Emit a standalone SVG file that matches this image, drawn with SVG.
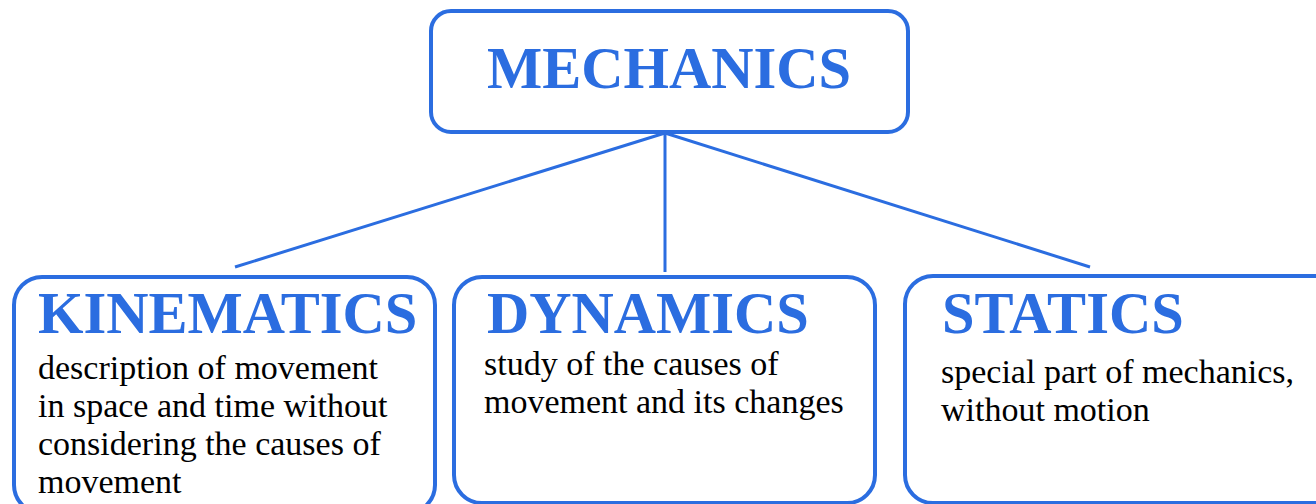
<svg xmlns="http://www.w3.org/2000/svg" width="1316" height="504" viewBox="0 0 1316 504">
<style>
.box{fill:#fff;stroke:#2b6de0;stroke-width:4}
.title{font-family:"Liberation Serif",serif;font-weight:bold;fill:#2b6de0;font-size:58.5px}
.body{font-family:"Liberation Serif",serif;fill:#000;font-size:34px}
.conn{stroke:#2b6de0;stroke-width:3;fill:none}
</style>
<rect width="1316" height="504" fill="#fff"/>
<g id="connectors">
<line class="conn" x1="665" y1="133" x2="235" y2="267"/>
<line class="conn" x1="665" y1="133" x2="665" y2="272"/>
<line class="conn" x1="665" y1="133" x2="1090" y2="267"/>
</g>
<g id="mechanics">
<rect class="box" x="431" y="11" width="477" height="121" rx="20"/>
<text class="title" x="669" y="88" text-anchor="middle">MECHANICS</text>
</g>
<g id="kinematics">
<rect class="box" x="14" y="277" width="421" height="236" rx="28"/>
<text class="title" x="38" y="333">KINEMATICS</text>
<text class="body" x="38" y="379">description of movement</text>
<text class="body" x="38" y="417">in space and time without</text>
<text class="body" x="38" y="455">considering the causes of</text>
<text class="body" x="38" y="493">movement</text>
</g>
<g id="dynamics">
<rect class="box" x="454" y="277" width="421" height="226" rx="28"/>
<text class="title" x="487" y="333">DYNAMICS</text>
<text class="body" x="484" y="375">study of the causes of</text>
<text class="body" x="484" y="413">movement and its changes</text>
</g>
<g id="statics">
<rect class="box" x="905" y="276" width="440" height="227" rx="28"/>
<text class="title" x="942" y="333">STATICS</text>
<text class="body" x="941" y="383">special part of mechanics,</text>
<text class="body" x="941" y="421">without motion</text>
</g>
</svg>
